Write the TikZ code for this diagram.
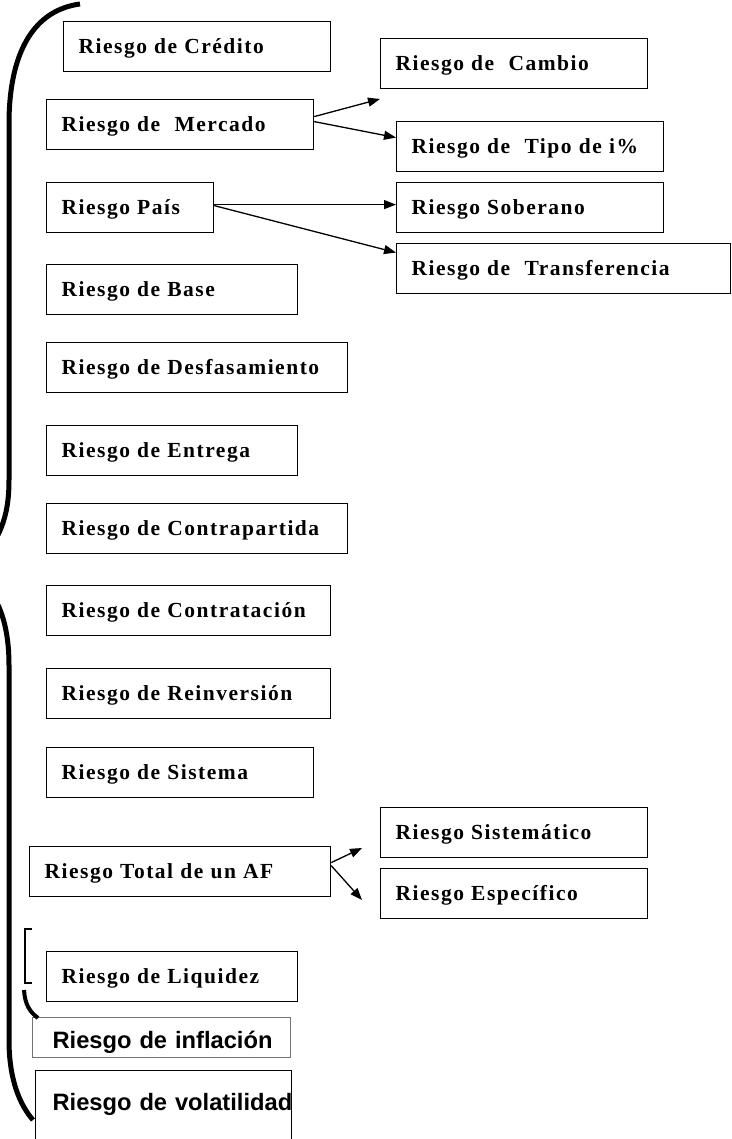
\documentclass[tikz,border=0pt]{standalone}
\usepackage{fontspec}
\font\rfont="Liberation Serif/B:letterspace=7" at 21.5pt
\newfontfamily\afont[BoldFont={Liberation Sans Bold}]{Liberation Sans}
\usetikzlibrary{arrows.meta}
\tikzset{box/.style={draw, line width=1.2pt, anchor=north west, inner xsep=0pt, inner ysep=0pt,
    text height=32pt, text depth=18pt, align=left, text width=#1,
    execute at begin node=\hspace*{\lpad}\hbox\bgroup, execute at end node=\egroup,
    font=\rfont},
  box/.default=267pt,
  lpad/.store in=\lpad, lpad=15pt,
  sbox/.style={box=#1, font=\afont\bfseries\fontsize{23.7pt}{26pt}\selectfont},
  line/.style={-{Triangle[length=12pt,width=9pt]}, line width=1.3pt},
  brace/.style={line width=5pt}
}

\begin{document}
\begin{tikzpicture}[x=1pt,y=-1pt]
\useasboundingbox (0,0) rectangle (731,1139);
\clip (0,0) rectangle (731,1139);
\node[box] (cred) at (63,21) {Riesgo de Crédito};
\node[box] (merc) at (46,99) {Riesgo de~~Mercado};
\node[box=167pt] (pais) at (46,182) {Riesgo País};
\node[box=251pt] (base) at (46,264) {Riesgo de Base};
\node[box=301pt] (desf) at (46,342) {Riesgo de Desfasamiento};
\node[box=251pt] (entr) at (46,425) {Riesgo de Entrega};
\node[box=301pt] (cpart) at (46,503) {Riesgo de Contrapartida};
\node[box=284pt] (ctrat) at (46,585) {Riesgo de Contratación};
\node[box=284pt] (reinv) at (46,668) {Riesgo de Reinversión};
\node[box] (sist) at (46,747) {Riesgo de Sistema};
\node[box=301pt] (total) at (29,846) {Riesgo Total de un AF};
\node[box=251pt] (liq) at (46,951) {Riesgo de Liquidez};
\node[sbox=258pt, draw=black!55, lpad=20pt, text height=31pt, text depth=9pt] (infl) at (32,1017) {Riesgo de inflación};
\node[sbox=256pt, lpad=17pt, text height=40pt, text depth=60pt] (vola) at (35,1070) {Riesgo de volatilidad};
% derecha
\node[box] (camb) at (380,38) {Riesgo de~~Cambio};
\node[box] (tipo) at (396,121) {Riesgo de~~Tipo de i\%};
\node[box] (sober) at (396,182) {Riesgo Soberano};
\node[box=334pt] (transf) at (396,243) {Riesgo de~~Transferencia};
\node[box] (sistm) at (380,807) {Riesgo Sistemático};
\node[box] (espec) at (380,868) {Riesgo Específico};
\coordinate (cambarr) at (380,99);
\coordinate (sisarr) at (362,848);
\coordinate (esparr) at (362,900);
\draw[line] ([yshift=8pt]merc.east) -- (cambarr);
\draw[line] ([yshift=3pt]merc.east) -- ([yshift=9pt]tipo.west);
\draw[line] ([yshift=3pt]pais.east) -- ([yshift=3pt]sober.west);
\draw[line] ([yshift=2pt]pais.east) -- ([yshift=16pt]transf.west);
\draw[line] ([yshift=9pt]total.east) -- (sisarr);
\draw[line] ([yshift=6pt]total.east) -- (esparr);
% llaves
\draw[brace] (80,4) .. controls (35,10) and (10,50) .. (9,120) -- (9,480) .. controls (9,505) and (5,520) .. (-2,535);
\draw[brace] (-2,605) .. controls (5,620) and (9,640) .. (9,665) -- (9,1040) .. controls (9,1080) and (20,1105) .. (33,1120);
\draw[line width=1.2pt] (32,929) -- (25,929) -- (25,983) -- (32,983);
\draw[line width=4pt] (24,990) .. controls (25,1005) and (30,1012) .. (38,1018);
\end{tikzpicture}
\end{document}
